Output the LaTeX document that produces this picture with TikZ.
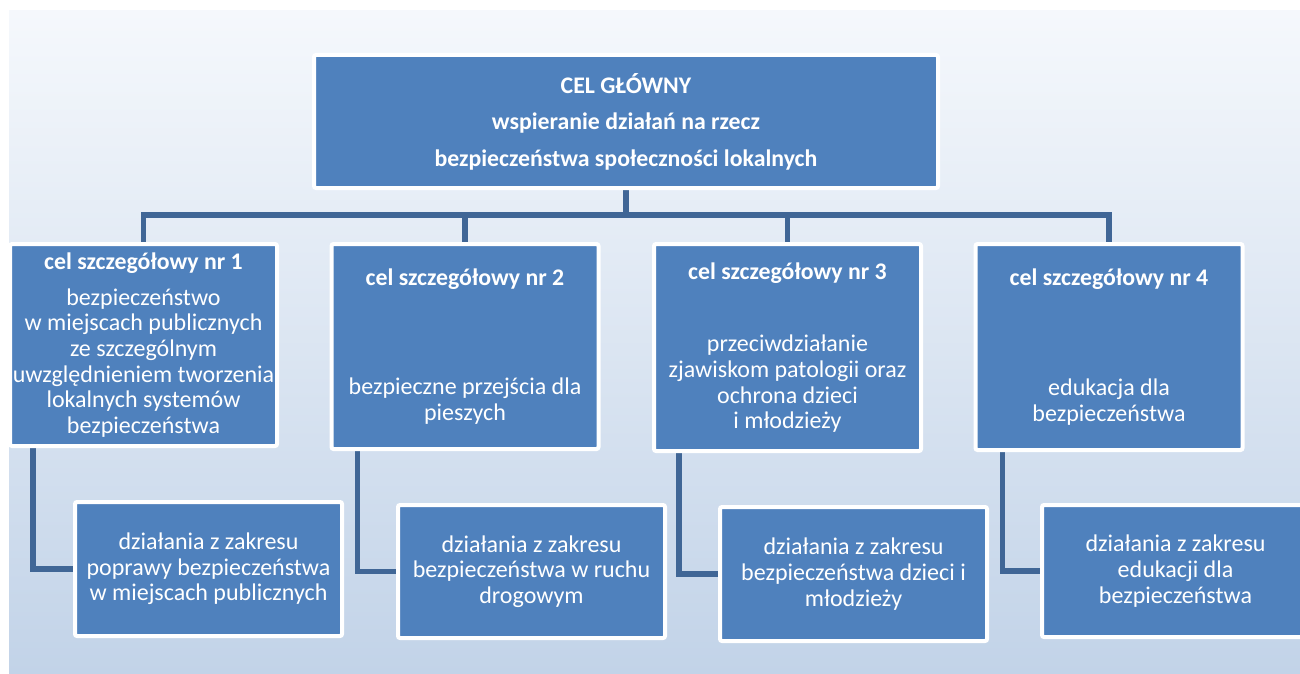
\documentclass[tikz,border=0pt]{standalone}
\usepackage{fontspec}
\setmainfont{Carlito}
\definecolor{boxblue}{RGB}{79,129,189}
\definecolor{lineblue}{RGB}{64,102,150}
\definecolor{bgtop}{RGB}{245,248,252}
\definecolor{bgbot}{RGB}{194,211,232}
\pgfdeclarelayer{bg}
\pgfsetlayers{bg,main}
\newcommand{\ttl}[1]{{\fontsize{23.8}{25.7}\selectfont\bfseries #1}}
\begin{document}
\begin{tikzpicture}[x=1pt,y=-1pt,
  box/.style={draw=white, line width=4pt, fill=boxblue, rounded corners=2pt,
    text=white, align=center, inner sep=0pt, minimum width=267pt,
    font=\fontsize{24}{25.7}\selectfont},
  conn/.style={draw=lineblue, line width=5.5pt}]
\clip (0,0) rectangle (1300,674);
% main box
\node[box, minimum width=624pt, minimum height=133pt,
  font=\fontsize{23.8}{36.5}\selectfont\bfseries] (top) at (626,121.5)
  {CEL GŁÓWNY\\wspieranie działań na rzecz\\bezpieczeństwa społeczności lokalnych};
% specific goals
\node[box, minimum height=202pt] (c1) at (143.5,345)
  {\ttl{cel szczegółowy nr 1}\\[10pt]bezpieczeństwo\\w miejscach publicznych\\ze szczególnym\\uwzględnieniem tworzenia\\lokalnych systemów\\bezpieczeństwa};
\node[box, minimum height=205pt] (c2) at (465,346.5)
  {\ttl{cel szczegółowy nr 2}\\[84pt]bezpieczne przejścia dla\\pieszych};
\node[box, minimum height=207pt] (c3) at (787.5,347.5)
  {\ttl{cel szczegółowy nr 3}\\[47pt]przeciwdziałanie\\zjawiskom patologii oraz\\ochrona dzieci\\i młodzieży};
\node[box, minimum height=206pt] (c4) at (1109,347)
  {\ttl{cel szczegółowy nr 4}\\[84pt]edukacja dla\\bezpieczeństwa};
% actions
\node[box, minimum height=134pt] (d1) at (208.5,569)
  {działania z zakresu\\poprawy bezpieczeństwa\\w miejscach publicznych};
\node[box, minimum height=133pt] (d2) at (531.5,571.5)
  {działania z zakresu\\bezpieczeństwa w ruchu\\drogowym};
\node[box, minimum height=134pt] (d3) at (853.5,574)
  {działania z zakresu\\bezpieczeństwa dzieci i\\młodzieży};
\node[box, minimum height=132pt] (d4) at (1175.5,571)
  {działania z zakresu\\edukacji dla\\bezpieczeństwa};
\coordinate (bus) at (626,215);
\begin{pgfonlayer}{bg}
\shade[top color=bgtop, bottom color=bgbot] (9,11) rectangle (1300,674);
\draw[conn] (top.south) -- (bus);
\draw[conn] (c1.north) |- (bus) -| (c4.north);
\draw[conn] (c2.north) -- (c2.north |- bus);
\draw[conn] (c3.north) -- (c3.north |- bus);
\draw[conn] ([xshift=25pt]c1.south west) |- (d1.west);
\draw[conn] ([xshift=28pt]c2.south west) |- (d2.west);
\draw[conn] ([xshift=27pt]c3.south west) |- (d3.west);
\draw[conn] ([xshift=29pt]c4.south west) |- (d4.west);
\end{pgfonlayer}
\end{tikzpicture}
\end{document}
